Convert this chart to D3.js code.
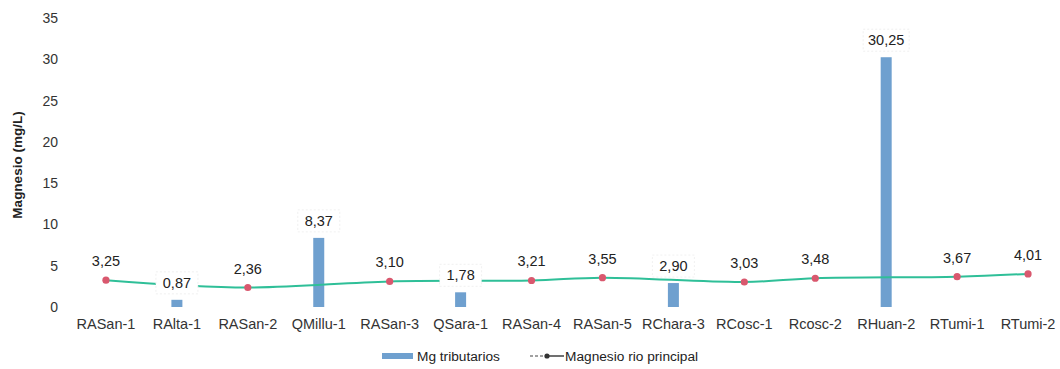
<!DOCTYPE html>
<html>
<head>
<meta charset="utf-8">
<script src="https://cdn.jsdelivr.net/npm/d3@7"></script>
<style>
  html, body { margin: 0; padding: 0; background: #fff; }
  svg { display: block; font-family: "Liberation Sans", Arial, sans-serif; }
</style>
</head>
<body>
<svg id="chart" width="1060" height="369"></svg>
<script>
// Sampling stations along the river and its tributaries
const stations = ["RASan-1", "RAlta-1", "RASan-2", "QMillu-1", "RASan-3", "QSara-1", "RASan-4",
  "RASan-5", "RChara-3", "RCosc-1", "Rcosc-2", "RHuan-2", "RTumi-1", "RTumi-2"];

// Magnesium in tributaries (mg/L); null where the station is on the main river
const mgTributarios = [null, 0.87, null, 8.37, null, 1.78, null, null, 2.90, null, null, 30.25, null, null];

// Magnesium along the main river (mg/L); null where the station is a tributary
const mgRioPrincipal = [3.25, null, 2.36, null, 3.10, null, 3.21, 3.55, null, 3.03, 3.48, null, 3.67, 4.01];

const yTicks = [0, 5, 10, 15, 20, 25, 30, 35];

const fmt = v => v.toFixed(2).replace(".", ",");

const svg = d3.select("#chart");

const x = d3.scaleBand().domain(stations).range([70.5, 1063.5]).padding(0);
const cx = d => x(d) + x.bandwidth() / 2;
const y = d3.scaleLinear().domain([0, 35]).range([307, 18]);

// Y axis: labels only, no line, no ticks
const yAxis = svg.append("g")
  .attr("transform", "translate(58,0)")
  .call(d3.axisLeft(y).tickValues(yTicks).tickSize(0).tickPadding(0).tickFormat(d3.format("d")));
yAxis.select(".domain").remove();
yAxis.selectAll("text")
  .attr("font-size", 14).attr("fill", "#333")
  .attr("font-family", "Liberation Sans, Arial, sans-serif");

svg.append("text")
  .attr("transform", "translate(22,165) rotate(-90)")
  .attr("text-anchor", "middle")
  .attr("font-size", 13.5).attr("font-weight", "bold").attr("fill", "#222")
  .text("Magnesio (mg/L)");

// X axis: category labels only
const xAxis = svg.append("g")
  .attr("transform", "translate(0,314)")
  .call(d3.axisBottom(x).tickSize(0).tickPadding(0));
xAxis.select(".domain").remove();
xAxis.selectAll("text")
  .attr("dy", "1em")
  .attr("font-size", 14.5).attr("fill", "#333")
  .attr("font-family", "Liberation Sans, Arial, sans-serif");

// Tributary bars
const barW = 11;
const barData = stations.map((s, i) => ({ s, v: mgTributarios[i] })).filter(d => d.v != null);
svg.append("g").selectAll("rect").data(barData).join("rect")
  .attr("x", d => cx(d.s) - barW / 2)
  .attr("y", d => y(d.v))
  .attr("width", barW)
  .attr("height", d => y(0) - y(d.v))
  .attr("fill", "#6fa0cf");

// Main river line (smoothed, connecting across tributary stations)
const lineData = stations.map((s, i) => ({ s, v: mgRioPrincipal[i] })).filter(d => d.v != null);
const line = d3.line().x(d => cx(d.s)).y(d => y(d.v)).curve(d3.curveCatmullRom.alpha(0.5));
svg.append("path").datum(lineData)
  .attr("d", line)
  .attr("fill", "none").attr("stroke", "#2fbf98").attr("stroke-width", 2);

svg.append("g").selectAll("circle").data(lineData).join("circle")
  .attr("cx", d => cx(d.s)).attr("cy", d => y(d.v)).attr("r", 3.6)
  .attr("fill", "#d9586e");

// Line data labels
svg.append("g").selectAll("text").data(lineData).join("text")
  .attr("x", d => cx(d.s)).attr("y", d => y(d.v) - 14)
  .attr("text-anchor", "middle").attr("font-size", 14.5).attr("fill", "#222")
  .text(d => fmt(d.v));

// Bar data labels in white callout boxes
const barLabels = svg.append("g").selectAll("g").data(barData).join("g")
  .attr("transform", d => `translate(${cx(d.s)},${y(d.v) - 17})`);
barLabels.append("rect")
  .attr("x", d => d.v >= 10 ? -23 : -21).attr("y", -11)
  .attr("width", d => d.v >= 10 ? 46 : 42).attr("height", 22)
  .attr("fill", "#fff").attr("stroke", "#ececec").attr("stroke-width", 0.8)
  .attr("stroke-dasharray", "2,2");
barLabels.append("text")
  .attr("y", 5).attr("text-anchor", "middle")
  .attr("font-size", 14.5).attr("fill", "#222")
  .text(d => fmt(d.v));

// Legend
const legend = svg.append("g");
legend.append("rect").attr("x", 382).attr("y", 353).attr("width", 31).attr("height", 6).attr("fill", "#6fa0cf");
legend.append("text").attr("x", 417).attr("y", 361).attr("font-size", 13.7).attr("fill", "#222").text("Mg tributarios");
legend.append("line").attr("x1", 530).attr("x2", 544).attr("y1", 356).attr("y2", 356)
  .attr("stroke", "#444").attr("stroke-width", 1.2).attr("stroke-dasharray", "3,2");
legend.append("circle").attr("cx", 547).attr("cy", 356).attr("r", 2.6).attr("fill", "#333");
legend.append("line").attr("x1", 549).attr("x2", 564).attr("y1", 356).attr("y2", 356)
  .attr("stroke", "#333").attr("stroke-width", 1.4);
legend.append("text").attr("x", 565).attr("y", 361).attr("font-size", 13.7).attr("fill", "#222").text("Magnesio rio principal");
</script>
</body>
</html>
